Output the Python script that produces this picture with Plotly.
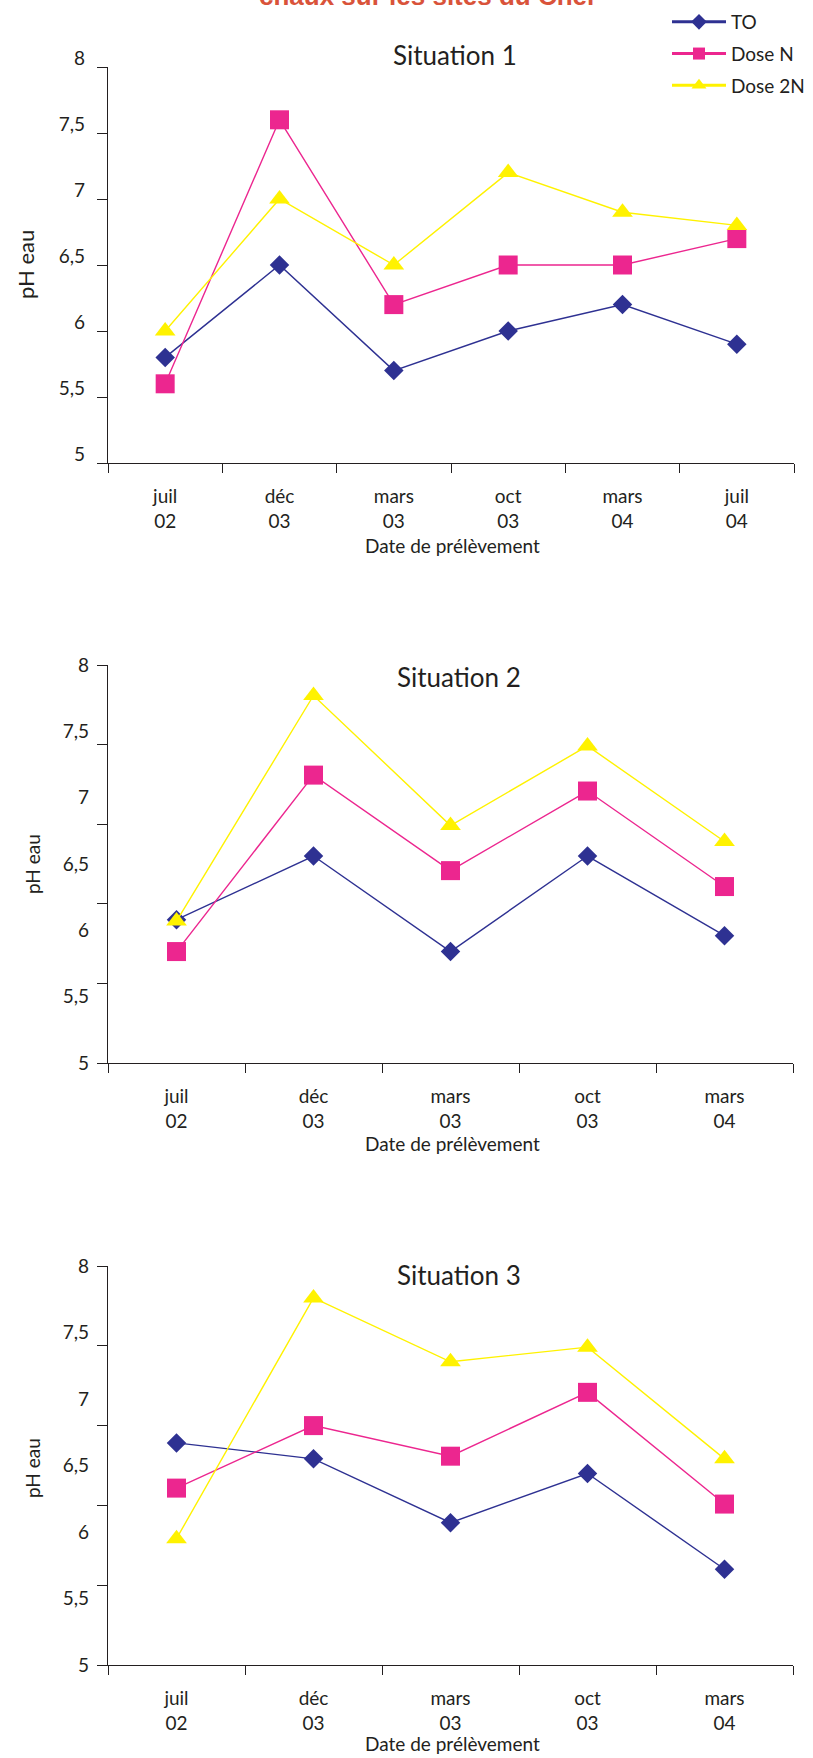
import plotly.graph_objects as go

W, H = 813, 1758

# ---------------- data ----------------
series_names = ["TO", "Dose N", "Dose 2N"]

cats_s1 = ["juil<br>02", "déc<br>03", "mars<br>03", "oct<br>03", "mars<br>04", "juil<br>04"]
cats_s23 = ["juil<br>02", "déc<br>03", "mars<br>03", "oct<br>03", "mars<br>04"]

s1_TO = [5.8, 6.5, 5.7, 6.0, 6.2, 5.9]
s1_N = [5.6, 7.6, 6.2, 6.5, 6.5, 6.7]
s1_2N = [6.0, 7.0, 6.5, 7.2, 6.9, 6.8]

s2_TO = [6.08, 6.56, 5.84, 6.56, 5.96]
s2_N = [5.84, 7.17, 6.45, 7.05, 6.33]
s2_2N = [6.07, 7.77, 6.79, 7.39, 6.67]

s3_TO = [6.67, 6.55, 6.07, 6.44, 5.72]
s3_N = [6.33, 6.80, 6.57, 7.05, 6.21]
s3_2N = [5.95, 7.76, 7.28, 7.39, 6.55]

y_label_vals = [5, 5.5, 6, 6.5, 7, 7.5, 8]
y_label_text = ["5", "5,5", "6", "6,5", "7", "7,5", "8"]
y_tick_vals_23 = [5, 5.6, 6.2, 6.8, 7.4, 8]

panel_titles = ["Situation 1", "Situation 2", "Situation 3"]
x_title = "Date de prélèvement"
y_title = "pH eau"
main_title = "chaux sur les sites du Cher"

# ---------------- style ----------------
colors = ["#2E3192", "#EC268F", "#FFF200"]
symbols = ["diamond", "square", "triangle-up"]
msizes = [15, 19, 18]
INK = "#231F20"
FONT = "Lato, 'Open Sans', sans-serif"


def fx(px):
    return px / W


def fy(px):
    return 1 - px / H


panels = [
    dict(cats=cats_s1, data=[s1_TO, s1_N, s1_2N], x0=108, x1=794, y0=67, y1=463),
    dict(cats=cats_s23, data=[s2_TO, s2_N, s2_2N], x0=108, x1=793, y0=665, y1=1063),
    dict(cats=cats_s23, data=[s3_TO, s3_N, s3_2N], x0=108, x1=793, y0=1266, y1=1665),
]

fig = go.Figure()

for i, p in enumerate(panels):
    xa = "x" if i == 0 else f"x{i+1}"
    ya = "y" if i == 0 else f"y{i+1}"
    for k, name in enumerate(series_names):
        fig.add_trace(go.Scatter(
            x=p["cats"], y=p["data"][k], name=name, mode="lines+markers",
            xaxis=xa, yaxis=ya, showlegend=False,
            line=dict(color=colors[k], width=1.4),
            marker=dict(symbol=symbols[k], size=msizes[k], color=colors[k],
                        line=dict(width=0)),
            cliponaxis=False,
        ))
    if i > 0:
        # empty trace so the overlaid label axis gets drawn
        fig.add_trace(go.Scatter(
            x=[None], y=[None], xaxis=xa, yaxis=f"y{i+3}", showlegend=False,
            hoverinfo="skip", mode="lines",
        ))

# legend proxies (thicker line like the original legend)
for k, name in enumerate(series_names):
    fig.add_trace(go.Scatter(
        x=[None], y=[None], name=name, mode="lines+markers",
        xaxis="x", yaxis="y", showlegend=True, legendgroup=name,
        line=dict(color=colors[k], width=3),
        marker=dict(symbol=symbols[k], size=[12, 12, 13][k], color=colors[k]),
    ))

axis_common = dict(
    showline=True, linecolor=INK, linewidth=1.4,
    ticks="outside", tickcolor=INK, tickwidth=1.4,
    showgrid=False, zeroline=False,
    tickfont=dict(family=FONT, size=19, color=INK),
)

layout = dict(
    width=W, height=H,
    margin=dict(l=0, r=0, t=0, b=0, autoexpand=False),
    paper_bgcolor="white", plot_bgcolor="white",
    font=dict(family=FONT, color=INK),
    showlegend=True,
    legend=dict(
        x=fx(667), y=fy(3), xanchor="left", yanchor="top",
        font=dict(family=FONT, size=19, color=INK),
        bgcolor="rgba(0,0,0,0)", itemwidth=54,
        traceorder="grouped", tracegroupgap=4,
    ),
)

for i, p in enumerate(panels):
    n = len(p["cats"])
    xkey = "xaxis" if i == 0 else f"xaxis{i+1}"
    ykey = "yaxis" if i == 0 else f"yaxis{i+1}"
    yanchor_name = "y" if i == 0 else f"y{i+1}"
    xanchor_name = "x" if i == 0 else f"x{i+1}"
    layout[xkey] = dict(
        axis_common, domain=[fx(p["x0"]), fx(p["x1"])], anchor=yanchor_name,
        type="category", range=[-0.5, n - 0.5], tickson="boundaries",
        ticklen=9, ticklabelstandoff=16, fixedrange=True,
    )
    if i == 0:
        layout[ykey] = dict(
            axis_common, domain=[fy(p["y1"]), fy(p["y0"])], anchor=xanchor_name,
            range=[5, 8], tickmode="array", tickvals=y_label_vals,
            ticktext=y_label_text, ticklen=10, ticklabelshift=-9,
            ticklabelstandoff=8,
        )
    else:
        layout[ykey] = dict(
            axis_common, domain=[fy(p["y1"]), fy(p["y0"])], anchor=xanchor_name,
            range=[5, 8], tickmode="array", tickvals=y_tick_vals_23,
            showticklabels=False, ticklen=10,
        )
        okey = f"yaxis{i+3}"
        layout[okey] = dict(
            overlaying=yanchor_name, anchor=xanchor_name, side="left",
            range=[5, 8], tickmode="array", tickvals=y_label_vals,
            ticktext=y_label_text, ticks="", showline=False, showgrid=False,
            zeroline=False, ticklabelstandoff=18,
            tickfont=dict(family=FONT, size=19, color=INK),
        )

fig.update_layout(**layout)

ann = []
# title of the page, cut at the very top as in the original scan
ann.append(dict(text=f"<b>{main_title}</b>", x=fx(428), y=fy(-4), xref="paper",
                yref="paper", xanchor="center", yanchor="middle", showarrow=False,
                font=dict(family="'Liberation Sans Narrow', 'Liberation Sans', sans-serif",
                          size=26, color="#D9533A")))
title_pos = [(455, 55), (459, 677), (459, 1275)]
for t, (tx, ty) in zip(panel_titles, title_pos):
    ann.append(dict(text=t, x=fx(tx), y=fy(ty), xref="paper", yref="paper",
                    xanchor="center", yanchor="middle", showarrow=False,
                    font=dict(family=FONT, size=26, color=INK)))
ytitle_pos = [(25, 265, 22), (32, 864, 19), (32, 1468, 19)]
for tx, ty, fs in ytitle_pos:
    ann.append(dict(text=y_title, x=fx(tx), y=fy(ty), xref="paper", yref="paper",
                    xanchor="center", yanchor="middle", showarrow=False, textangle=-90,
                    font=dict(family=FONT, size=fs, color=INK)))
xtitle_pos = [(452, 545), (452, 1143), (452, 1743)]
for tx, ty in xtitle_pos:
    ann.append(dict(text=x_title, x=fx(tx), y=fy(ty), xref="paper", yref="paper",
                    xanchor="center", yanchor="middle", showarrow=False,
                    font=dict(family=FONT, size=19, color=INK)))
fig.update_layout(annotations=ann)

fig.write_html(
    "out.html",
    config={"displayModeBar": False},
    post_script="document.body.style.margin='0';document.body.style.overflow='hidden';",
)
